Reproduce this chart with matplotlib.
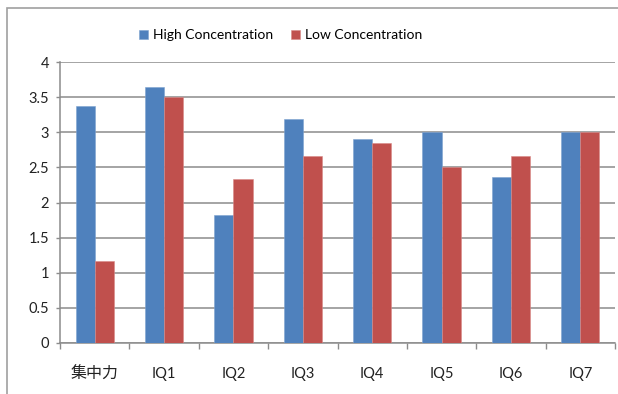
import matplotlib
matplotlib.use("Agg")

import numpy as np
import matplotlib.pyplot as plt
from matplotlib.patches import Rectangle

# Scores per category
categories = ["集中力", "IQ1", "IQ2", "IQ3", "IQ4", "IQ5", "IQ6", "IQ7"]
high_conc = [3.37, 3.64, 1.82, 3.19, 2.91, 3.00, 2.37, 3.00]
low_conc = [1.17, 3.50, 2.33, 2.66, 2.84, 2.50, 2.66, 3.00]
y_ticks = [0, 0.5, 1, 1.5, 2, 2.5, 3, 3.5, 4]
y_tick_labels = ["0", "0.5", "1", "1.5", "2", "2.5", "3", "3.5", "4"]

BLUE = "#4F81BD"
RED = "#C0504D"
GRID = "#8C8C8C"
FONT = ["Lato", "Noto Sans CJK JP", "DejaVu Sans"]

plt.rcParams["font.family"] = FONT

W, H = 618, 394
fig = plt.figure(figsize=(W / 100, H / 100), dpi=100)

# outer chart frame
fig.patches.append(Rectangle((7 / W, -0.1), 1.2, 1 - 8 / H + 0.1,
                             transform=fig.transFigure, fill=False,
                             edgecolor="#A0A0A0", lw=1.2))

ax = fig.add_axes([60 / W, (H - 343) / H, 555 / W, (343 - 62) / H])

x = np.arange(len(categories))
bw = 0.275
ax.bar(x - bw / 2, high_conc, bw, color=BLUE, edgecolor="#7EA3D0", lw=0.4,
       label="High Concentration", zorder=3)
ax.bar(x + bw / 2, low_conc, bw, color=RED, edgecolor="#D88A88", lw=0.4,
       label="Low Concentration", zorder=3)

ax.set_xlim(-0.5, len(categories) - 0.5)
ax.set_ylim(0, 4)

ax.set_yticks(y_ticks)
ax.set_yticklabels(y_tick_labels, fontsize=10.5, color="#222222")
ax.yaxis.grid(True, color=GRID, lw=1.1, zorder=0)
ax.tick_params(axis="y", length=3, width=1, color=GRID, pad=5)

# category boundaries get ticks, centers get labels
ax.set_xticks(np.arange(len(categories) + 1) - 0.5)
ax.set_xticklabels([])
ax.tick_params(axis="x", which="major", length=4, width=1, color=GRID)
ax.set_xticks(x, minor=True)
ax.set_xticklabels(categories, minor=True, fontsize=10.5, color="#222222")
ax.tick_params(axis="x", which="minor", length=0, pad=17)
ax.get_xticklabels(minor=True)[0].set_fontsize(11.5)

for side in ["top", "right"]:
    ax.spines[side].set_visible(False)
for side in ["left", "bottom"]:
    ax.spines[side].set_color(GRID)
    ax.spines[side].set_linewidth(1.1)

leg = fig.legend(loc="center", bbox_to_anchor=(281 / W, 1 - 35 / H), ncol=2,
                 frameon=False, fontsize=10, handlelength=0.6,
                 handleheight=0.6, handletextpad=0.4, columnspacing=1.3)

fig.savefig("out.png", dpi=100)
plt.close(fig)
